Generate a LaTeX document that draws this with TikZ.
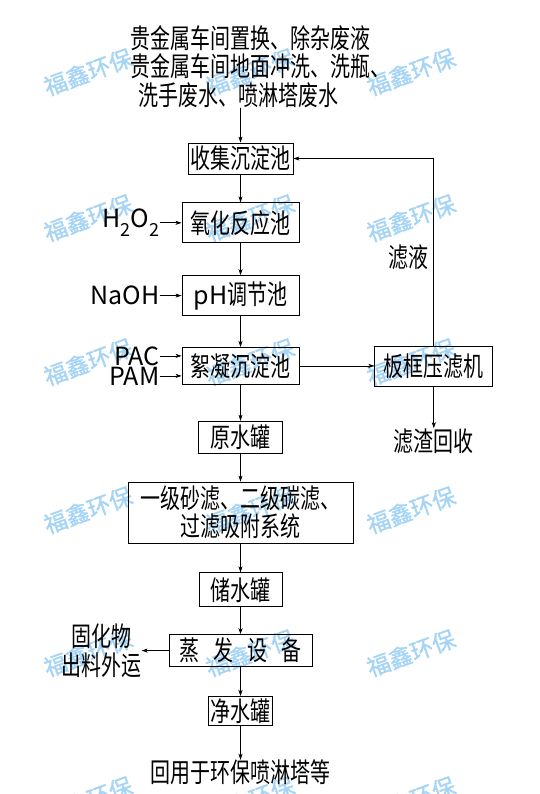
\documentclass[tikz,border=0pt]{standalone}
\usepackage{fontspec}
\setmainfont{Noto Sans CJK SC}[FakeStretch=0.74]
\newfontfamily\latfont{Noto Sans CJK SC}
\newfontfamily\wmfont{Noto Sans CJK SC}[FakeBold=1.2]
\usepackage{tikz}
\usetikzlibrary{positioning,arrows.meta}
\definecolor{WM}{RGB}{165,212,245}
\newcommand{\lat}[1]{{\latfont\fontsize{25}{28.5}\selectfont #1}}
\newcommand{\lowidx}[1]{{\latfont\fontsize{18}{18}\selectfont\raisebox{-9pt}{#1}}}

\begin{document}
\begin{tikzpicture}[
  proc/.style={draw, line width=0.8pt, inner sep=0pt, align=center,
               font=\fontsize{27}{28.5}\selectfont},
  lbl/.style={inner sep=0pt, align=center, font=\fontsize{27}{28.5}\selectfont},
  wm/.style={text=WM, rotate=20, inner sep=0pt, font=\wmfont\fontsize{23}{23}\selectfont},
  arr/.style={-{Stealth[length=6pt,width=4pt,inset=1.5pt]}, line width=0.7pt},
]
\useasboundingbox (0,0) rectangle (540pt,-794pt);

% watermark
\foreach \y in {72,218,362,510,653,800}
  \foreach \x in {88,250,411}
    \node[wm] (wm-\x-\y) at (\x pt,-\y pt) {福鑫环保};

% main line
\node[proc, minimum width=105pt, minimum height=31pt] (collect) at (240.5pt,-158.5pt) {收集沉淀池};
\node[lbl, align=left, above=35pt of collect, xshift=20pt] (src) {贵金属车间置换、除杂废液\\贵金属车间地面冲洗、洗瓶、\\\hspace*{8pt}洗手废水、喷淋塔废水};
\node[proc, minimum width=117pt, minimum height=40pt, below=28pt of collect] (oxid) {氧化反应池};
\node[proc, minimum width=117pt, minimum height=40pt, below=32pt of oxid] (ph) {\lat{pH}调节池};
\node[proc, minimum width=117pt, minimum height=37pt, below=31pt of ph] (floc) {絮凝沉淀池};
\node[proc, minimum width=84pt, minimum height=32pt, below=36pt of floc] (rawtank) {原水罐};
\node[proc, minimum width=225pt, minimum height=61pt, below=28pt of rawtank] (filt) {一级砂滤、二级碳滤、\\过滤吸附系统};
\node[proc, minimum width=83pt, minimum height=34pt, below=29pt of filt] (store) {储水罐};
\node[proc, minimum width=143pt, minimum height=32pt, below=27pt of store] (evap) {蒸\hspace{14pt}发\hspace{14pt}设\hspace{14pt}备};
\node[proc, minimum width=64pt, minimum height=29pt, below=29pt of evap] (clean) {净水罐};
\node[lbl, below=34pt of clean] (reuse) {回用于环保喷淋塔等};

% side branch
\node[proc, minimum width=118pt, minimum height=40pt, right=75pt of floc] (press) {板框压滤机};
\node[lbl, below=42pt of press] (sludge) {滤渣回收};
\node[lbl, left=27pt of evap] (solid) {固化物\\出料外运};

% dosing
\node[lbl, left=22pt of oxid] (hoo) {\lat{H}\lowidx{2}\lat{O}\lowidx{2}};
\node[lbl, left=22pt of ph] (naoh) {\lat{NaOH}};
\node[lbl, left=22pt of floc.west, yshift=10pt] (pac) {\lat{PAC}};
\node[lbl, left=22pt of floc.west, yshift=-10pt] (pam) {\lat{PAM}};

\draw[arr] (src.south -| collect.north) -- (collect);
\draw[arr] (collect) -- (oxid);
\draw[arr] (oxid) -- (ph);
\draw[arr] (ph) -- (floc);
\draw[arr] (floc) -- (rawtank);
\draw[arr] (rawtank) -- (filt);
\draw[arr] (filt) -- (store);
\draw[arr] (store) -- (evap);
\draw[arr] (evap) -- (clean);
\draw[arr] (clean) -- (reuse);
\draw[arr] (evap) -- (solid);
\draw[arr] (floc) -- (press);
\draw[arr] (press) -- (sludge);
\draw[arr] (press.north) -- node[lbl, left=5pt, pos=0.47] (filtrate) {滤液}
  (press.north |- collect.east) -- (collect.east);
\draw[arr] (hoo) -- (oxid);
\draw[arr] (naoh) -- (ph);
\draw[arr] (pac) -- (pac -| floc.west);
\draw[arr] (pam) -- (pam -| floc.west);
\end{tikzpicture}
\end{document}
